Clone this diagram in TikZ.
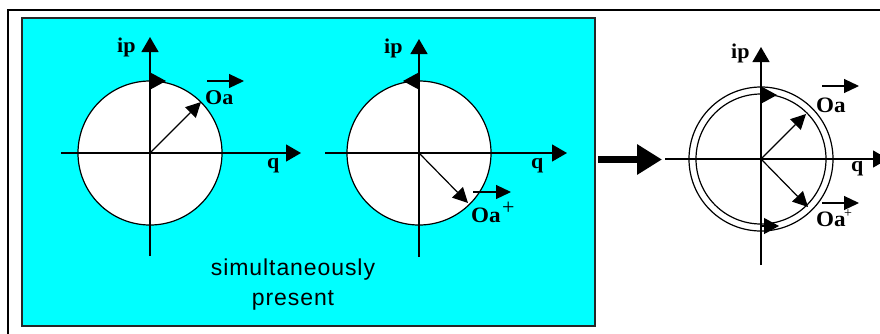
\documentclass[tikz,border=0pt]{standalone}
\usepackage{fontspec}
\setmainfont{Liberation Serif}
\setsansfont{Liberation Sans}
\usetikzlibrary{arrows.meta}
\definecolor{cyanbg}{HTML}{00FFFF}
\begin{document}
\begin{tikzpicture}[x=1pt,y=-1pt,
  axis/.style={line width=1.3pt,-{Triangle[length=15pt,width=17pt]}},
  vec/.style={line width=1.2pt,-{Triangle[length=15pt,width=15pt]}},
  tang/.style={line width=1.2pt,-{Triangle[length=15pt,width=16pt]}},
  over/.style={line width=1.2pt,-{Triangle[length=15pt,width=14pt]}},
  disc/.style={line width=1.2pt,draw=black,fill=white},
  lab/.style={font=\bfseries\fontsize{21}{21}\selectfont,inner sep=0pt,anchor=base west,xscale=1.05},
  labb/.style={font=\bfseries\fontsize{22}{22}\selectfont,inner sep=0pt,anchor=base west,xscale=1.05},
  sup/.style={font=\fontsize{22}{22}\selectfont,inner sep=0pt,anchor=base west}]
\useasboundingbox (0,0) rectangle (880,333);
\fill[white] (0,0) rectangle (880,333);
% outer frame
\draw[line width=2pt] (8,10) rectangle (895,345);
% cyan panel
\draw[line width=1.5pt,draw=black!85,fill=cyanbg] (22,18) rectangle (595,326);

% ---------- diagram 1 ----------
\coordinate (c1) at (150,153);
\draw[disc] (c1) circle (72);
\coordinate (c1l) at (61,153); \coordinate (c1r) at (301,153);
\coordinate (c1b) at (150,256); \coordinate (c1t) at (150,37);
\draw[axis] (c1l) -- (c1r);
\draw[axis] (c1b) -- (c1t);
\coordinate (c1a) at (150,81); \coordinate (c1ae) at (166,81);
\draw[tang] (c1a) -- (c1ae);
\coordinate (c1v) at (201,102);
\draw[vec] (c1) -- (c1v);
\node[lab] (ip1) at (117,52) {ip};
\node[lab] (q1) at (267,168) {q};
\node[lab] (oa1) at (205,104) {Oa};
\coordinate (o1s) at (207,81); \coordinate (o1e) at (244,81);
\draw[over] (o1s) -- (o1e);

% ---------- diagram 2 ----------
\coordinate (c2) at (419,153);
\draw[disc] (c2) circle (72);
\coordinate (c2l) at (325,153); \coordinate (c2r) at (567,153);
\coordinate (c2b) at (419,257); \coordinate (c2t) at (419,39);
\draw[axis] (c2l) -- (c2r);
\draw[axis] (c2b) -- (c2t);
\coordinate (c2a) at (419,81); \coordinate (c2ae) at (403,81);
\draw[tang] (c2a) -- (c2ae);
\coordinate (c2v) at (468,203);
\draw[vec] (c2) -- (c2v);
\node[lab] (ip2) at (384,53) {ip};
\node[lab] (q2) at (531,168) {q};
\node[labb] (oa2) at (471,222) {Oa};
\node[sup] (p2) at (oa2.base east) [xshift=1pt,yshift=8pt] {+};
\coordinate (o2s) at (473,192); \coordinate (o2e) at (511,192);
\draw[over] (o2s) -- (o2e);

\node[font=\sffamily\fontsize{23}{30}\selectfont\addfontfeature{LetterSpace=4},align=center,inner sep=0pt] (txt) at (293,285) {simultaneously\\present};

% ---------- big arrow ----------
\coordinate (ba) at (598,159.5); \coordinate (bb) at (662,159.5);
\draw[line width=7pt,-{Triangle[length=25pt,width=29pt]}] (ba) -- (bb);

% ---------- diagram 3 ----------
\coordinate (c3) at (761,159);
\draw[line width=1.2pt,fill=white] (c3) circle (72);
\draw[line width=1.2pt] (c3) circle (65);
\coordinate (c3l) at (665,159); \coordinate (c3r) at (888,159);
\coordinate (c3b) at (761,265); \coordinate (c3t) at (761,47);
\draw[axis] (c3l) -- (c3r);
\draw[axis] (c3b) -- (c3t);
\coordinate (c3a) at (761,95); \coordinate (c3ae) at (777,95);
\draw[tang] (c3a) -- (c3ae);
\coordinate (c3c) at (761,226); \coordinate (c3ce) at (779,226);
\draw[tang] (c3c) -- (c3ce);
\coordinate (c3v) at (806,114);
\draw[vec] (c3) -- (c3v);
\coordinate (c3w) at (808,207);
\draw[vec] (c3) -- (c3w);
\node[lab] (ip3) at (731,58) {ip};
\node[lab] (q3) at (851,171) {q};
\node[labb] (oa3) at (816,112) {Oa};
\coordinate (o3s) at (822,86); \coordinate (o3e) at (859,86);
\draw[over] (o3s) -- (o3e);
\node[labb] (oa4) at (816,226) {Oa};
\node[sup,font=\fontsize{14}{14}\selectfont] (p4) at (oa4.base east) [xshift=-2pt,yshift=9pt] {+};
\coordinate (o4s) at (822,203); \coordinate (o4e) at (859,203);
\draw[over] (o4s) -- (o4e);
\end{tikzpicture}
\end{document}
